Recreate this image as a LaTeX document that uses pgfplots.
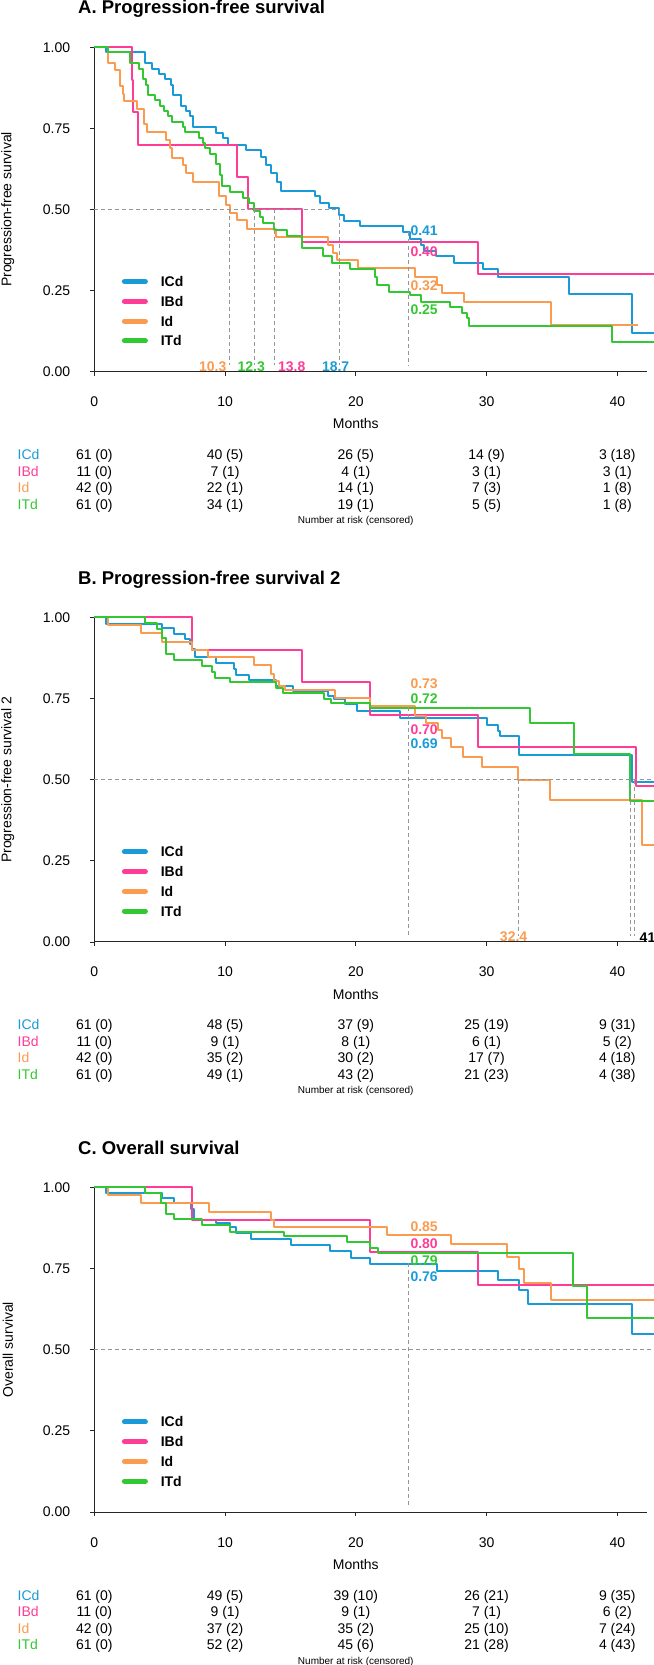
\documentclass[border=0pt]{standalone}
\usepackage{pgfplots}
\pgfplotsset{compat=1.18}
\usepackage{fontspec}
\setmainfont{Liberation Sans}
\definecolor{cICd}{RGB}{25,155,215}
\definecolor{cIBd}{RGB}{255,60,150}
\definecolor{cId}{RGB}{250,155,80}
\definecolor{cITd}{RGB}{50,200,50}
\definecolor{dashgray}{RGB}{150,150,150}
\newcommand\fs[1]{\fontsize{#1bp}{#1bp}\selectfont}

\pgfplotsset{
  km/.style={
    scale only axis, width=552.4bp, height=324.5bp,
    xmin=0, xmax=42.25, ymin=0, ymax=1,
    clip=false,
    axis x line*=bottom, axis y line*=left,
    axis line style={black!85, line width=1bp},
    tick align=outside, major tick length=4bp,
    tick style={black!85, line width=0.9bp},
    xtick={0,10,20,30,40},
    ytick={0,0.25,0.5,0.75,1},
    yticklabels={0.00,0.25,0.50,0.75,1.00},
    /pgf/number format/assume math mode=true,
    tick label style={font=\fs{14}, inner sep=0pt},
    xticklabel style={anchor=base, yshift=-31bp},
    yticklabel style={anchor=east, xshift=-20bp},
    legend cell align=left,
    legend style={at={(axis cs:0,0)}, anchor=north west, xshift=27.6bp, yshift=95bp,
      draw=none, fill=none, inner xsep=0pt, inner ysep=0pt, outer sep=0pt,
      row sep=9.7bp, column sep=12.9bp, font=\bfseries\fs{14},
      nodes={inner sep=0pt, text height=10bp, text depth=0pt}},
    legend image code/.code={\draw[##1, line width=5bp, line cap=round] (2.5bp,0bp) -- (23.5bp,0bp);},
    every axis plot/.append style={const plot, line width=2bp, line join=round},
  },
  med/.style={forget plot, sharp plot, dashgray, dash pattern=on 4bp off 3bp, line width=0.9bp},
}

\newcommand\riskrow[8]{%
  \node[anchor=base west, text=#2, font=\fs{14}, inner sep=0pt, yshift=-#1bp] at (axis cs:-5.88,0) {#3};
  \node[anchor=base, font=\fs{14}, inner sep=0pt, yshift=-#1bp] at (axis cs:0,0) {#4};
  \node[anchor=base, font=\fs{14}, inner sep=0pt, yshift=-#1bp] at (axis cs:10,0) {#5};
  \node[anchor=base, font=\fs{14}, inner sep=0pt, yshift=-#1bp] at (axis cs:20,0) {#6};
  \node[anchor=base, font=\fs{14}, inner sep=0pt, yshift=-#1bp] at (axis cs:30,0) {#7};
  \node[anchor=base, font=\fs{14}, inner sep=0pt, yshift=-#1bp] at (axis cs:40,0) {#8};
}
\newcommand\panelframe[2]{%
  \node[anchor=base west, font=\bfseries\fs{18.5}, inner sep=0pt, xshift=-16.3bp, yshift=33.4bp] at (axis cs:0,1) {#1};
  \node[rotate=90, font=\fs{14}, inner sep=0pt, anchor=center] at (axis cs:-6.62,0.5) {#2};
  \node[anchor=base, font=\fs{14}, inner sep=0pt, yshift=-57.3bp] at (axis cs:20,0) {Months};
  \node[anchor=base, font=\fs{10}, inner sep=0pt, yshift=-152bp] at (axis cs:20,0) {Number at risk (censored)};
}
\newcommand\annot[3]{% month-24 label: baseline above axis, color, text
  \node[anchor=base west, text=#2, font=\bfseries\fs{14}, inner sep=0pt, yshift=#1bp] at (axis cs:24.17,0) {#3};
}
\newcommand\medlab[4]{% x (months), baseline above axis, color, text
  \node[anchor=base, text=#3, font=\bfseries\fs{14}, inner sep=0pt, yshift=#2bp] at (axis cs:#1,0) {#4};
}

\begin{document}
\begin{tikzpicture}
\useasboundingbox (0,0) rectangle (654bp,1665bp);

% ================= A =================
\begin{axis}[km, at={(94.3bp,1293.3bp)}, anchor=south west]
\addplot[cICd] coordinates {(0,1) (0.93,0.984) (3.87,0.951) (4.44,0.934) (4.92,0.918) (5.40,0.902) (5.85,0.885) (6.04,0.852) (6.62,0.820) (7.0,0.803) (7.32,0.787) (7.58,0.754) (9.30,0.737) (9.85,0.720) (10.2,0.700) (11.6,0.684) (12.76,0.663) (13.14,0.638) (13.52,0.612) (14.0,0.586) (14.26,0.558) (16.88,0.540) (17.3,0.520) (17.94,0.505) (18.73,0.484) (19.12,0.463) (20.33,0.448) (23.6,0.432) (24.17,0.410) (24.97,0.390) (25.2,0.373) (26.1,0.357) (27.5,0.334) (29.76,0.316) (30.9,0.293) (36.3,0.240) (41.1,0.120) (42.8,0.120)};
\addlegendentry{ICd}
\addplot[cIBd] coordinates {(0,1) (2.85,0.9) (2.97,0.8) (3.32,0.7) (10.9,0.6) (11.76,0.5) (15.9,0.4) (29.35,0.3) (42.8,0.3)};
\addlegendentry{IBd}
\addplot[cId] coordinates {(0,1) (1.05,0.952) (1.57,0.929) (1.95,0.881) (2.17,0.857) (2.27,0.833) (3.23,0.810) (3.8,0.762) (4.03,0.738) (5.47,0.714) (5.79,0.690) (5.95,0.658) (6.75,0.638) (7.0,0.612) (7.54,0.586) (9.56,0.542) (10.1,0.514) (10.36,0.489) (10.9,0.466) (11.7,0.440) (13.9,0.415) (17.84,0.390) (18.26,0.365) (18.57,0.343) (20.17,0.319) (24.5,0.293) (26.2,0.267) (26.57,0.242) (28.26,0.216) (34.94,0.144) (41.6,0.144)};
\addlegendentry{Id}
\addplot[cITd] coordinates {(0,1) (1.05,0.984) (2.75,0.951) (3.39,0.934) (3.71,0.902) (3.93,0.885) (4.12,0.852) (4.67,0.836) (4.99,0.820) (5.31,0.803) (5.63,0.787) (5.95,0.770) (6.75,0.754) (6.97,0.738) (8.02,0.721) (8.28,0.705) (8.5,0.689) (8.82,0.672) (9.3,0.639) (9.62,0.605) (9.78,0.572) (10.36,0.555) (11.38,0.536) (11.86,0.52) (12.24,0.495) (12.66,0.478) (12.88,0.458) (13.78,0.437) (14.74,0.417) (15.86,0.38) (17.46,0.355) (18.16,0.334) (19.53,0.316) (21.45,0.293) (21.6,0.267) (22.57,0.247) (24.17,0.235) (24.97,0.216) (27.2,0.2) (28.1,0.18) (28.48,0.165) (28.64,0.141) (39.6,0.093) (42.8,0.093)};
\addlegendentry{ITd}
\addplot[med] coordinates {(0,0.5) (18.73,0.5)};
\addplot[med] coordinates {(10.33,0.5) (10.33,0.02)};
\addplot[med] coordinates {(12.28,0.5) (12.28,0.02)};
\addplot[med] coordinates {(13.78,0.5) (13.78,0.02)};
\addplot[med] coordinates {(18.73,0.5) (18.73,0.02)};
\addplot[med] coordinates {(24,0.43) (24,0.02)};
\panelframe{A. Progression-free survival}{Progression-free survival}
\annot{135.7}{cICd}{0.41}
\annot{115}{cIBd}{0.40}
\annot{81}{cId}{0.32}
\annot{56.7}{cITd}{0.25}
\medlab{9.06}{0.5}{cId}{10.3}
\medlab{12.0}{0.5}{cITd}{12.3}
\medlab{15.1}{0.5}{cIBd}{13.8}
\medlab{18.46}{0.5}{cICd}{18.7}
\riskrow{88}{cICd}{ICd}{61 (0)}{40 (5)}{26 (5)}{14 (9)}{3 (18)}
\riskrow{104.5}{cIBd}{IBd}{11 (0)}{7 (1)}{4 (1)}{3 (1)}{3 (1)}
\riskrow{121}{cId}{Id}{42 (0)}{22 (1)}{14 (1)}{7 (3)}{1 (8)}
\riskrow{137.4}{cITd}{ITd}{61 (0)}{34 (1)}{19 (1)}{5 (5)}{1 (8)}
\end{axis}

% ================= B =================
\begin{axis}[km, at={(94.3bp,723bp)}, anchor=south west]
\addplot[cICd] coordinates {(0,1) (0.93,0.981) (5.2,0.967) (6.1,0.949) (6.9,0.933) (7.3,0.918) (7.5,0.902) (7.7,0.879) (9.3,0.861) (10.65,0.841) (10.84,0.823) (11.86,0.807) (13.9,0.789) (15.2,0.774) (17.9,0.758) (18.3,0.748) (19.2,0.733) (20.1,0.712) (23.4,0.689) (30.0,0.669) (30.9,0.650) (31.05,0.635) (32.5,0.576) (41.1,0.493) (42.8,0.493)};
\addlegendentry{ICd}
\addplot[cIBd] coordinates {(0,1) (7.45,0.90) (15.9,0.80) (21.07,0.70) (29.35,0.60) (41.4,0.48) (42.8,0.48)};
\addlegendentry{IBd}
\addplot[cId] coordinates {(0,1) (1.05,0.976) (3.55,0.952) (5.15,0.926) (7.45,0.90) (8.66,0.879) (12.18,0.854) (13.5,0.827) (13.75,0.805) (14.16,0.789) (14.58,0.777) (18.4,0.753) (21.07,0.727) (24.5,0.697) (25.35,0.676) (26.25,0.652) (26.6,0.628) (27.3,0.60) (28.2,0.57) (29.67,0.54) (32.42,0.50) (34.88,0.437) (41.9,0.30) (42.8,0.30)};
\addlegendentry{Id}
\addplot[cITd] coordinates {(0,1) (3.87,0.982) (4.83,0.964) (5.2,0.938) (5.47,0.887) (6.1,0.868) (8.2,0.851) (9.0,0.833) (9.24,0.815) (10.36,0.80) (13.9,0.784) (14.4,0.766) (17.6,0.748) (18.1,0.736) (21.07,0.72) (33.3,0.676) (36.7,0.578) (40.95,0.434) (42.8,0.434)};
\addlegendentry{ITd}
\addplot[med] coordinates {(0,0.5) (42.8,0.5)};
\addplot[med] coordinates {(24,0.724) (24,0.02)};
\addplot[med] coordinates {(32.42,0.5) (32.42,0.02)};
\addplot[med] coordinates {(41.02,0.5) (41.02,0.02)};
\addplot[med] coordinates {(41.34,0.5) (41.34,0.02)};
\panelframe{B. Progression-free survival 2}{Progression-free survival 2}
\annot{253}{cId}{0.73}
\annot{238.3}{cITd}{0.72}
\annot{207}{cIBd}{0.70}
\annot{193.7}{cICd}{0.69}
\medlab{32.07}{0.3}{cId}{32.4}
\node[anchor=base west, font=\bfseries\fs{14}, inner sep=0pt, yshift=-1bp] at (axis cs:41.7,0) {41};
\riskrow{88}{cICd}{ICd}{61 (0)}{48 (5)}{37 (9)}{25 (19)}{9 (31)}
\riskrow{104.5}{cIBd}{IBd}{11 (0)}{9 (1)}{8 (1)}{6 (1)}{5 (2)}
\riskrow{121}{cId}{Id}{42 (0)}{35 (2)}{30 (2)}{17 (7)}{4 (18)}
\riskrow{137.4}{cITd}{ITd}{61 (0)}{49 (1)}{43 (2)}{21 (23)}{4 (38)}
\end{axis}

% ================= C =================
\begin{axis}[km, at={(94.3bp,153bp)}, anchor=south west]
\addplot[cICd] coordinates {(0,1) (0.93,0.984) (5.2,0.967) (6.1,0.951) (7.4,0.934) (7.6,0.899) (9.3,0.892) (10.4,0.877) (10.84,0.861) (12.0,0.840) (15.06,0.823) (18.0,0.805) (19.6,0.784) (21.1,0.763) (26.2,0.743) (30.9,0.714) (32.5,0.683) (33.2,0.642) (41.1,0.549) (42.8,0.549)};
\addlegendentry{ICd}
\addplot[cIBd] coordinates {(0,1) (7.45,0.90) (21.07,0.80) (29.35,0.70) (42.8,0.70)};
\addlegendentry{IBd}
\addplot[cId] coordinates {(0,1) (1.05,0.976) (3.55,0.952) (8.76,0.926) (13.5,0.90) (13.75,0.878) (22.4,0.854) (27.3,0.827) (31.6,0.786) (32.5,0.748) (32.9,0.707) (34.9,0.652) (42.8,0.652)};
\addlegendentry{Id}
\addplot[cITd] coordinates {(0,1) (3.87,0.984) (5.08,0.951) (5.47,0.918) (6.1,0.902) (8.2,0.885) (10.4,0.864) (14.5,0.851) (19.3,0.833) (21.1,0.815) (21.7,0.797) (36.6,0.697) (37.7,0.599) (42.8,0.599)};
\addlegendentry{ITd}
\addplot[med] coordinates {(0,0.5) (42.8,0.5)};
\addplot[med] coordinates {(24,0.766) (24,0.02)};
\panelframe{C. Overall survival}{Overall survival}
\annot{280.3}{cId}{0.85}
\annot{263.7}{cIBd}{0.80}
\annot{246.3}{cITd}{0.79}
\annot{230.3}{cICd}{0.76}
\riskrow{88}{cICd}{ICd}{61 (0)}{49 (5)}{39 (10)}{26 (21)}{9 (35)}
\riskrow{104.5}{cIBd}{IBd}{11 (0)}{9 (1)}{9 (1)}{7 (1)}{6 (2)}
\riskrow{121}{cId}{Id}{42 (0)}{37 (2)}{35 (2)}{25 (10)}{7 (24)}
\riskrow{137.4}{cITd}{ITd}{61 (0)}{52 (2)}{45 (6)}{21 (28)}{4 (43)}
\end{axis}
\end{tikzpicture}
\end{document}
